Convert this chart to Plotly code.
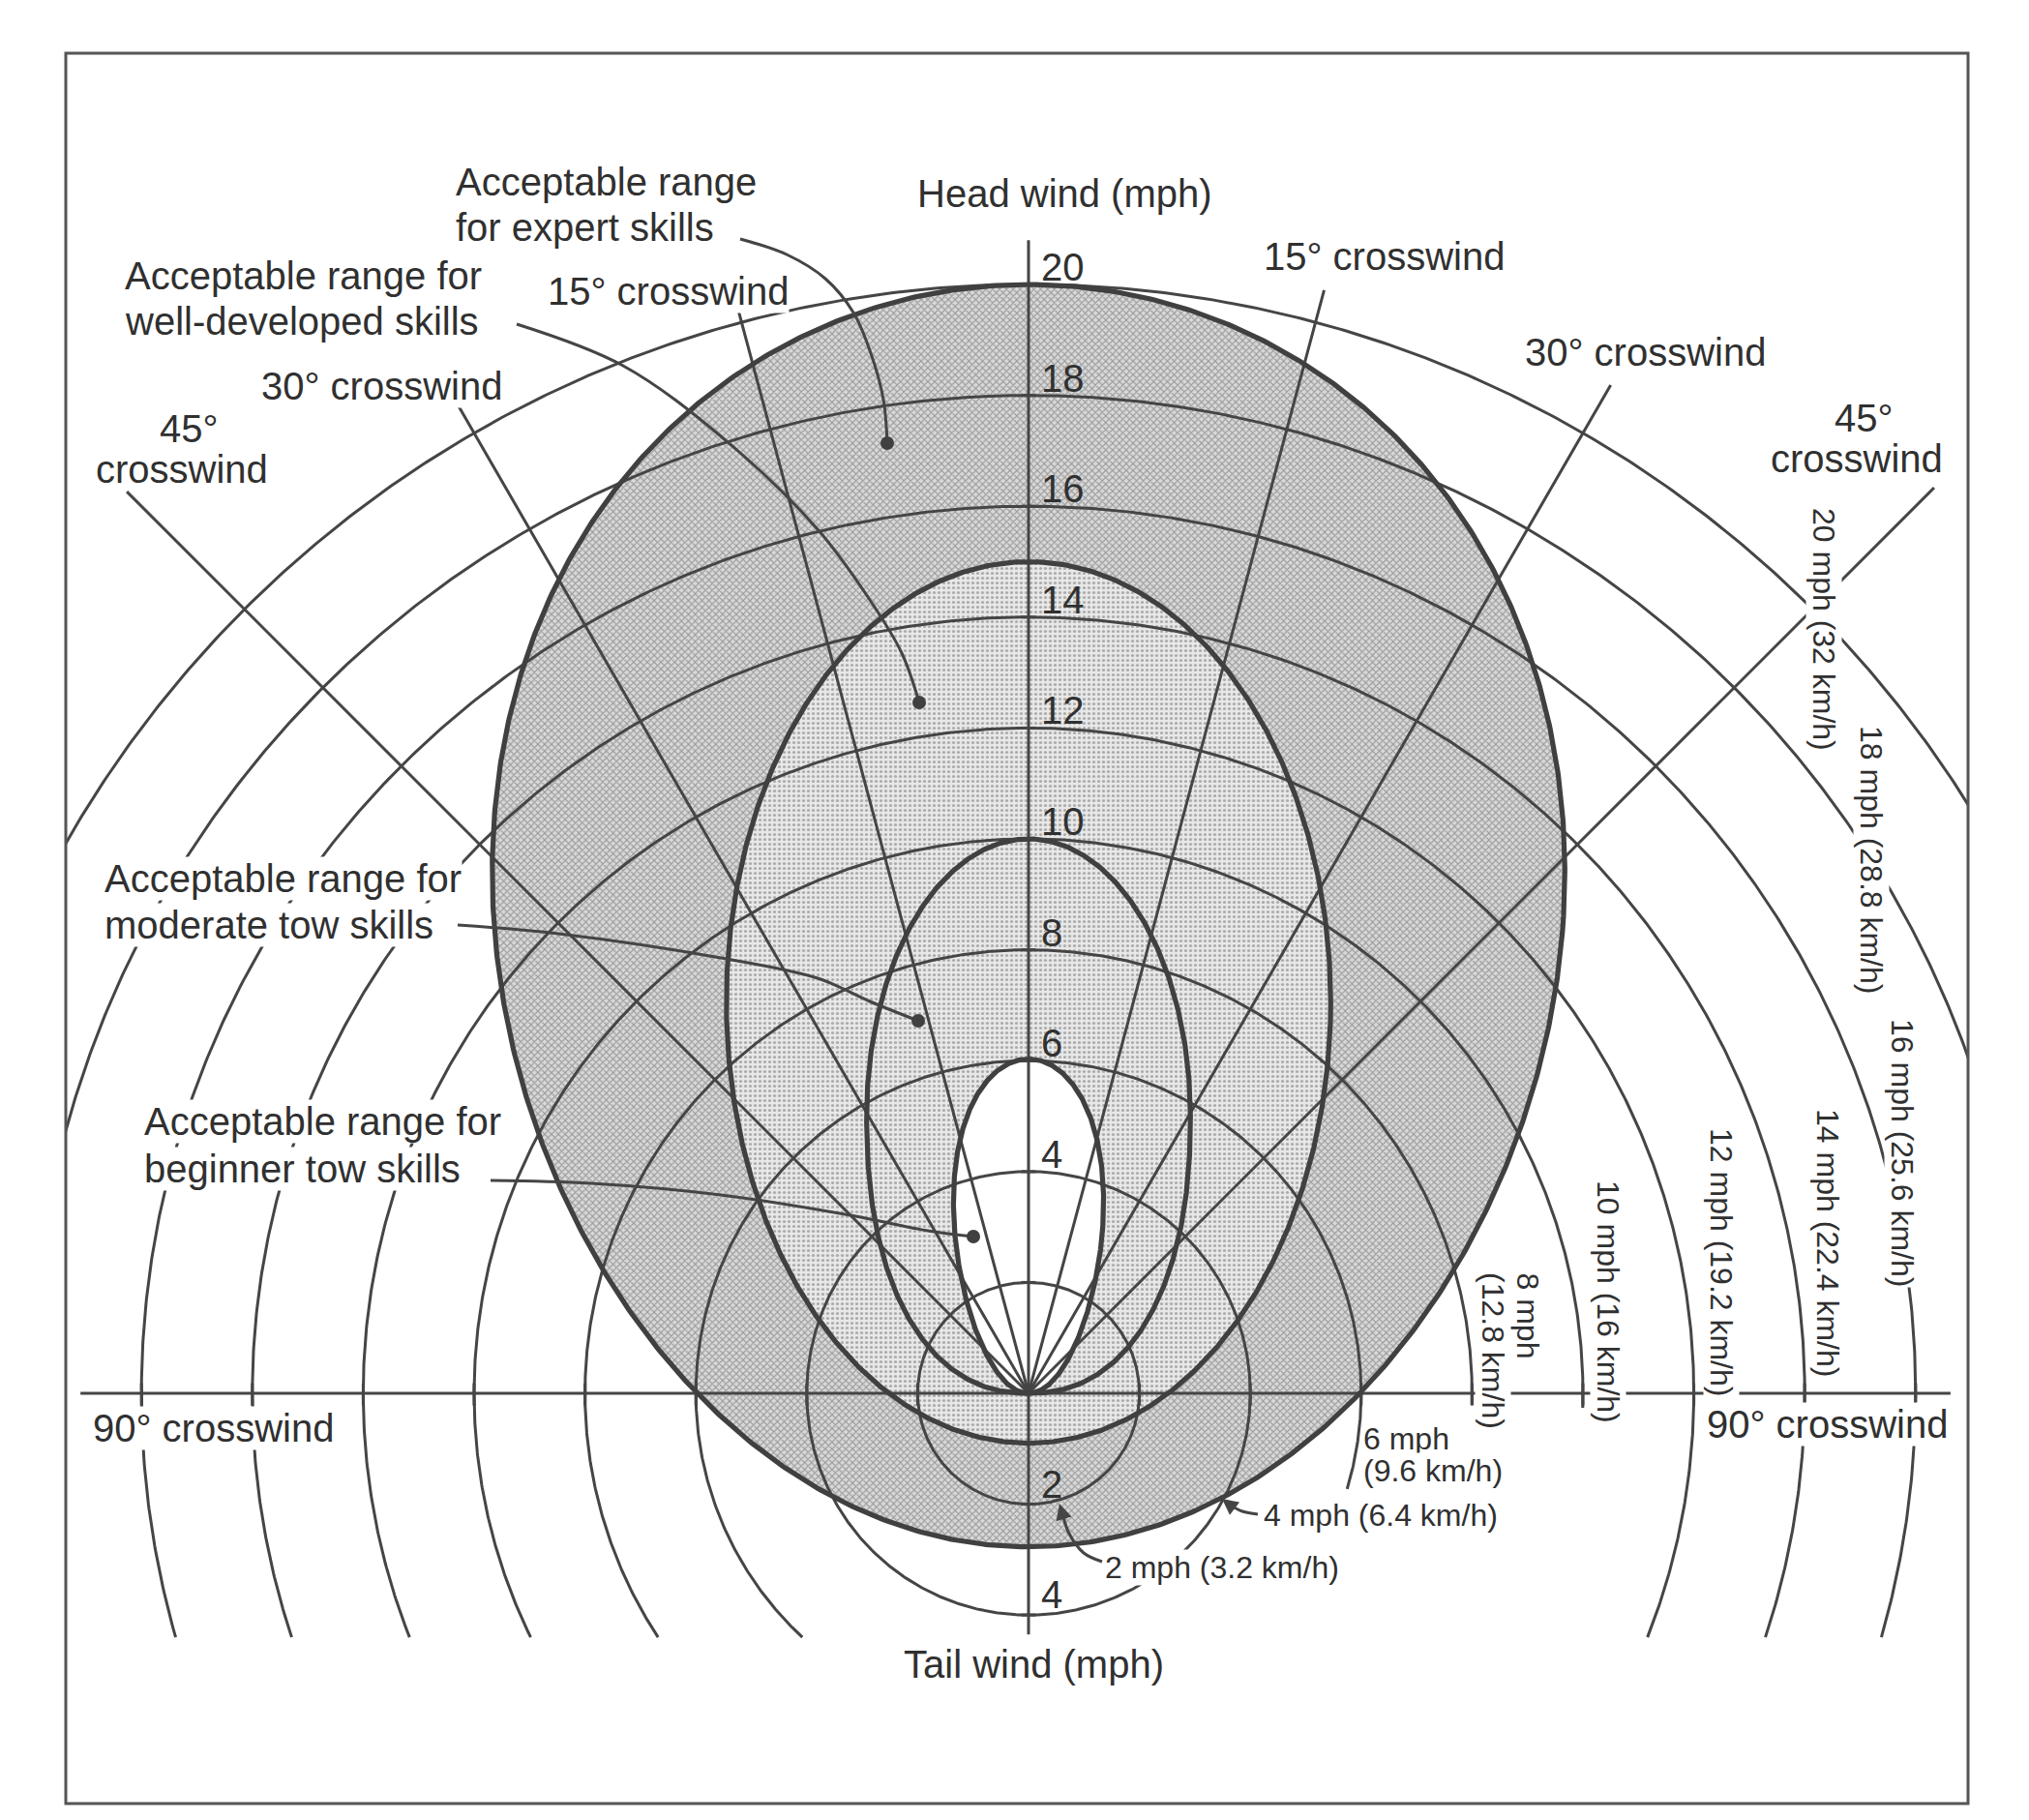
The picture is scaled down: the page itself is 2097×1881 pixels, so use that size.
import numpy as np
import plotly.graph_objects as go

# ---------------- chart values (mph) ----------------
circle_speeds_mph = [2, 4, 6, 8, 10, 12, 14, 16, 18, 20]
circle_speeds_kmh = ["3.2", "6.4", "9.6", "12.8", "16", "19.2", "22.4", "25.6", "28.8", "32"]
crosswind_angles_deg = [15, 30, 45]
crosswind_length_left = [20.2, 20.6, 23.0]
crosswind_length_right = [20.6, 21.0, 23.1]
headwind_tick_labels = [20, 18, 16, 14, 12, 10, 8, 6, 4]
tailwind_tick_labels = [2, 4]
region_names = ["expert skills", "well-developed skills", "moderate tow skills", "beginner tow skills"]
region_top_mph = [20.0, 15.0, 10.0, 6.03]
region_bottom_mph = [-2.77, -0.9, 0.0, 0.0]
region_half_width_mph = [9.65, 5.45, 2.92, 1.34]
region_taper = [0.07, 0.0, 0.0, 0.15]
region_bottom_squareness = [2.0, 2.0, 2.25, 2.0]
tail_cutoff_mph = 4.4
headwind_axis_top_mph = 20.8
crosswind_axis_left_mph = -17.1
crosswind_axis_right_mph = 16.63

# ---------------- geometry of the page ----------------
W, H = 2097, 1881
OX, OY, S = 1055.0, 1432.0, 57.3          # origin pixel and px per mph
FL, FT, FR, FB = 60, 47, 2026, 1856       # frame

LINE = "#454545"
BOLD = "#404040"
TEXT = "#303030"
FONT = "Liberation Sans, Arial, sans-serif"
THIN = 3.0
THICK = 5.2


def d(px, py):
    return (px - OX) / S, (OY - py) / S


def region_outline(top, bottom, half_w, taper, sq, npts=900):
    yc = (top + bottom) / 2.0
    b = (top - bottom) / 2.0
    t = np.linspace(0, 2 * np.pi, npts)
    c, s = np.cos(t), np.sin(t)
    n = np.where(s < 0, sq, 2.0)
    xs = half_w * np.sign(c) * np.abs(c) ** (2.0 / n) * (1 + taper * s)
    ys = yc + b * np.sign(s) * np.abs(s) ** (2.0 / n)
    return xs, ys


outlines = [region_outline(region_top_mph[i], region_bottom_mph[i], region_half_width_mph[i],
                           region_taper[i], region_bottom_squareness[i]) for i in range(4)]

fig = go.Figure()

# ---- shaded regions ----
ex, ey = outlines[0]
fig.add_trace(go.Scatter(x=ex, y=ey, mode="lines", line=dict(width=0, color="rgba(0,0,0,0)"),
                         fill="toself", fillcolor="#bdbdbd",
                         fillpattern=dict(shape="x", fgcolor="#5e5e5e", bgcolor="#d9d9d9",
                                          size=5, solidity=0.4),
                         hoverinfo="skip", showlegend=False))
wx, wy = outlines[1]
fig.add_trace(go.Scatter(x=wx, y=wy, mode="lines", line=dict(width=0, color="rgba(0,0,0,0)"),
                         fill="toself", fillcolor="#d6d6d6",
                         fillpattern=dict(shape=".", fgcolor="#6f6f6f", bgcolor="#e8e8e8",
                                          size=5, solidity=0.33),
                         hoverinfo="skip", showlegend=False))
bx, by = outlines[3]
fig.add_trace(go.Scatter(x=bx, y=by, mode="lines", line=dict(width=0, color="rgba(0,0,0,0)"),
                         fill="toself", fillcolor="white", hoverinfo="skip", showlegend=False))

# ---- speed circles ----
right_end_override = {6: -16.7, 8: -1.5, 10: -1.5}
cx, cy = [], []
for r in circle_speeds_mph:
    if r <= tail_cutoff_mph:
        a0, a1 = 0.0, 360.0
    else:
        cut = np.degrees(np.arcsin(tail_cutoff_mph / r))
        a0 = right_end_override.get(r, -cut)
        a1 = 180.0 + cut
    a = np.radians(np.linspace(a0, a1, 700))
    cx += list(r * np.cos(a)) + [None]
    cy += list(r * np.sin(a)) + [None]
fig.add_trace(go.Scatter(x=cx, y=cy, mode="lines", line=dict(color=LINE, width=THIN),
                         hoverinfo="skip", showlegend=False))

# ---- crosswind lines, axes, ticks ----
lx, ly = [], []
for ang, L1, L2 in zip(crosswind_angles_deg, crosswind_length_left, crosswind_length_right):
    t = np.radians(ang)
    lx += [-L1 * np.sin(t), 0, L2 * np.sin(t), None]
    ly += [L1 * np.cos(t), 0, L2 * np.cos(t), None]
lx += [0, 0, None, crosswind_axis_left_mph, crosswind_axis_right_mph, None]
ly += [-4.35, headwind_axis_top_mph, None, 0, 0, None]
for v in circle_speeds_mph:
    lx += [-0.13, 0.13, None]
    ly += [v, v, None]
for v in tailwind_tick_labels:
    lx += [-0.13, 0.13, None]
    ly += [-v, -v, None]
for v in circle_speeds_mph:
    for sgn in (-1, 1):
        if crosswind_axis_left_mph < sgn * v < crosswind_axis_right_mph:
            lx += [sgn * v, sgn * v, None]
            ly += [-0.22, 0.18, None]
fig.add_trace(go.Scatter(x=lx, y=ly, mode="lines", line=dict(color=LINE, width=THIN),
                         hoverinfo="skip", showlegend=False))

# ---- bold region boundaries ----
ox_, oy_ = [], []
for xs, ys in outlines:
    ox_ += list(xs) + [None]
    oy_ += list(ys) + [None]
fig.add_trace(go.Scatter(x=ox_, y=oy_, mode="lines", line=dict(color=BOLD, width=THICK),
                         hoverinfo="skip", showlegend=False))

# ---- leader lines with dots ----
leaders = [
    [(757, 239), (805, 255), (845, 280), (874, 315), (893, 360), (905, 405), (909, 450)],
    [(526, 327), (636, 370), (743, 448), (837, 539), (891, 612), (924, 667), (942, 718)],
    [(465, 948), (569, 957), (737, 982), (837, 1003), (891, 1027), (941, 1047)],
    [(499, 1212), (603, 1215), (737, 1227), (871, 1248), (951, 1264), (998, 1270)],
]
for pts in leaders:
    xy = [d(*p) for p in pts]
    fig.add_trace(go.Scatter(x=[p[0] for p in xy], y=[p[1] for p in xy], mode="lines",
                             line=dict(color=LINE, width=THIN, shape="spline"),
                             hoverinfo="skip", showlegend=False))
    fig.add_trace(go.Scatter(x=[xy[-1][0]], y=[xy[-1][1]], mode="markers",
                             marker=dict(color=BOLD, size=14), hoverinfo="skip", showlegend=False))

arrow_leaders = [
    [(1131, 1606), (1112, 1597), (1097, 1577), (1091, 1560)],
    [(1292, 1557), (1276, 1554), (1264, 1548)],
]
arrow_tips = [(1087, 1546), (1255, 1541)]
for pts, tip in zip(arrow_leaders, arrow_tips):
    xy = [d(*p) for p in pts]
    fig.add_trace(go.Scatter(x=[p[0] for p in xy], y=[p[1] for p in xy], mode="lines",
                             line=dict(color=LINE, width=THIN, shape="spline"),
                             hoverinfo="skip", showlegend=False))
    tx, ty = d(*tip)
    fig.add_annotation(x=tx, y=ty, ax=xy[-1][0], ay=xy[-1][1], xref="x", yref="y",
                       axref="x", ayref="y", text="", showarrow=True, arrowhead=2,
                       arrowsize=1.1, arrowwidth=THIN, arrowcolor=LINE)


# ---- text ----
def txt(text, px, py, size=40, xanchor="left", yanchor="middle", angle=0, bg=True):
    x, y = d(px, py)
    fig.add_annotation(x=x, y=y, xref="x", yref="y", text=text, showarrow=False,
                       xanchor=xanchor, yanchor=yanchor, textangle=angle,
                       font=dict(family=FONT, size=size, color=TEXT),
                       bgcolor="white" if bg else "rgba(0,0,0,0)", borderpad=0)


txt("Acceptable range", 462, 180)
txt("for expert skills", 462, 227)
txt("Acceptable range for", 120, 277)
txt("well-developed skills", 120, 324)
txt(f"{crosswind_angles_deg[0]}° crosswind", 557, 293)
txt(f"{crosswind_angles_deg[1]}° crosswind", 261, 391)
txt(f"{crosswind_angles_deg[2]}°", 187, 435, xanchor="center", bg=False)
txt("crosswind", 180, 477, xanchor="center", bg=False)
txt(f"{crosswind_angles_deg[0]}° crosswind", 1297, 257)
txt(f"{crosswind_angles_deg[1]}° crosswind", 1567, 356)
txt(f"{crosswind_angles_deg[2]}°", 1918, 424, xanchor="center", bg=False)
txt("crosswind", 1911, 466, xanchor="center", bg=False)
txt("Acceptable range for", 99, 900)
txt("moderate tow skills", 99, 948)
txt("Acceptable range for", 140, 1151)
txt("beginner tow skills", 140, 1200)
txt("90° crosswind", 87, 1468)
txt("90° crosswind", 1755, 1464)
txt("Head wind (mph)", 1092, 192, xanchor="center", bg=False)
txt("Tail wind (mph)", 1060, 1712, xanchor="center", bg=False)

for v in headwind_tick_labels:
    txt(str(v), OX + 12, OY - v * S - 18, bg=False)
for v in tailwind_tick_labels:
    txt(str(v), OX + 12, OY + v * S - 21, bg=False)

kmh = dict(zip(circle_speeds_mph, circle_speeds_kmh))
rot_labels = {20: (1877, 642), 18: (1926, 880), 16: (1958, 1183), 14: (1881, 1276),
              12: (1771, 1296), 10: (1654, 1337)}
for v, (px, py) in rot_labels.items():
    txt(f"{v} mph ({kmh[v]} km/h)", px, py, size=32, xanchor="center", angle=90)
txt("8 mph", 1571, 1306, size=32, xanchor="center", yanchor="top", angle=90)
txt(f"({kmh[8]} km/h)", 1535, 1306, size=32, xanchor="center", yanchor="top", angle=90)
txt("6 mph", 1400, 1479, size=32)
txt(f"({kmh[6]} km/h)", 1400, 1512, size=32)
txt(f"4 mph ({kmh[4]} km/h)", 1297, 1558, size=32)
txt(f"2 mph ({kmh[2]} km/h)", 1133, 1612, size=32)

# ---- layout ----
xr = [(FL - OX) / S, (FR - OX) / S]
yr = [(OY - FB) / S, (OY - FT) / S]
fig.update_layout(
    width=W, height=H,
    margin=dict(l=FL, r=W - FR, t=FT, b=H - FB, pad=0),
    paper_bgcolor="white", plot_bgcolor="white",
    showlegend=False,
    font=dict(family=FONT, color=TEXT),
    xaxis=dict(range=xr, visible=False, fixedrange=True),
    yaxis=dict(range=yr, visible=False, fixedrange=True),
    shapes=[dict(type="rect", xref="paper", yref="paper", x0=0, y0=0, x1=1, y1=1,
                 line=dict(color="#555555", width=3), layer="above")],
)

fig.write_html("out.html")
